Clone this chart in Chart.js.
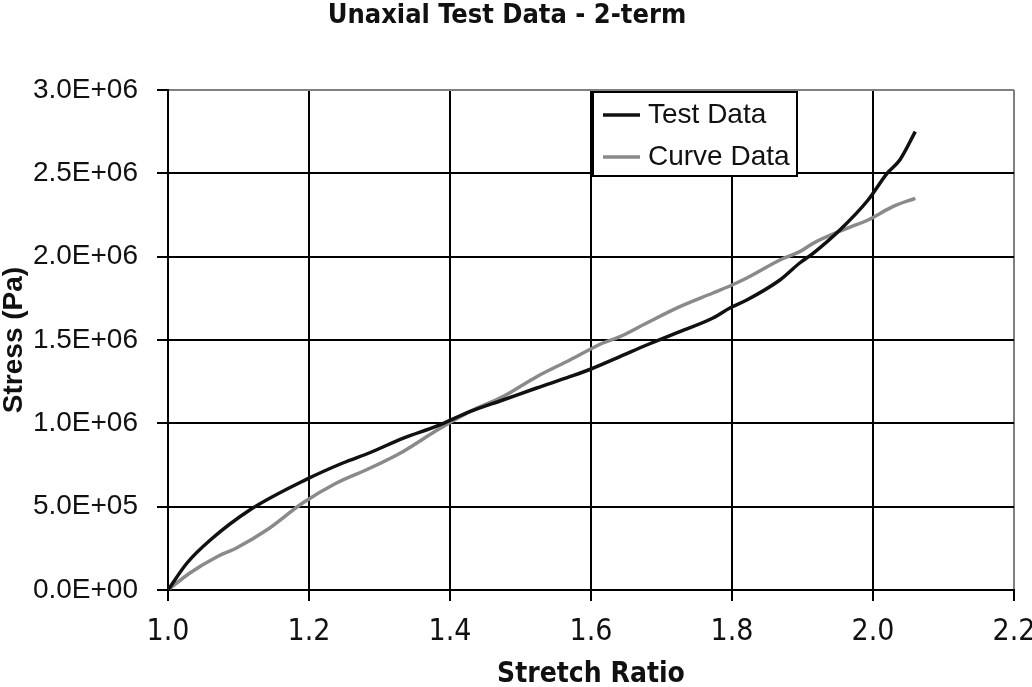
<!DOCTYPE html>
<html>
<head>
    <title>Unaxial Test Data - 2-term</title>
    <script src="https://cdn.jsdelivr.net/npm/chart.js"></script>
    <style>
        body { margin: 0; background: #fff; }
        #wrap { width: 1032px; height: 687px; position: relative; }
    </style>
</head>
<body>
    <div id="wrap"><canvas id="stressChart"></canvas></div>
    <script>
        // Test data (black curve)
        const testStretch = [1.000, 1.027, 1.060, 1.116, 1.197, 1.248, 1.287, 1.333, 1.382, 1.428, 1.475, 1.523, 1.570,
            1.600, 1.641, 1.679, 1.726, 1.773, 1.797, 1.821, 1.868, 1.896, 1.915, 1.953, 1.993, 2.020, 2.038, 2.060];
        const testStress = [0, 162000, 300000, 480000, 665000, 762000, 825000, 910000, 985000, 1070000, 1140000, 1212000, 1280000,
            1326000, 1400000, 1470000, 1550000, 1632000, 1692000, 1740000, 1860000, 1962000, 2020000, 2160000, 2340000, 2500000, 2580000, 2750000];

        // Curve fit data (grey curve)
        const curveStretch = [1.000, 1.031, 1.069, 1.097, 1.140, 1.191, 1.239, 1.287, 1.333, 1.382, 1.428, 1.475, 1.523, 1.570,
            1.617, 1.641, 1.679, 1.726, 1.773, 1.800, 1.821, 1.868, 1.896, 1.915, 1.963, 1.993, 2.028, 2.060];
        const curveStress = [0, 102000, 198000, 252000, 360000, 522000, 642000, 732000, 830000, 960000, 1070000, 1160000, 1280000, 1380000,
            1482000, 1520000, 1602000, 1700000, 1782000, 1830000, 1872000, 1980000, 2030000, 2080000, 2170000, 2220000, 2300000, 2350000];

        // axis settings
        const xMin = 1.0, xMax = 2.2, xStep = 0.2;
        const yMin = 0, yMax = 3000000, yStep = 500000;

        const narrow = '"Liberation Sans Narrow", "DejaVu Sans Condensed", Arial, sans-serif';
        const plain = '"Liberation Sans", Arial, sans-serif';

        function toPoints(xs, ys) {
            return xs.map((x, i) => ({ x: x, y: ys[i] }));
        }

        // Excel style label: 2.5E+06
        function sci(v) {
            const parts = Number(v).toExponential(1).split('e');
            const sign = parts[1][0];
            let exp = parts[1].slice(1);
            if (exp.length < 2) exp = '0' + exp;
            return parts[0] + 'E' + sign + exp;
        }

        // legend box drawn inside the plot area
        const boxLegend = {
            id: 'boxLegend',
            afterDraw(chart) {
                const ctx = chart.ctx;
                const area = chart.chartArea;
                const x0 = area.left + 425, y0 = area.top + 2, w = 204, h = 84;
                ctx.save();
                ctx.fillStyle = '#fff';
                ctx.fillRect(x0, y0, w, h);
                ctx.strokeStyle = '#000';
                ctx.lineWidth = 2;
                ctx.strokeRect(x0, y0, w, h);
                ctx.font = '28px ' + plain;
                ctx.textBaseline = 'middle';
                chart.data.datasets.forEach((ds, i) => {
                    const cy = y0 + 23 + i * 42;
                    ctx.strokeStyle = ds.borderColor;
                    ctx.lineWidth = 3.5;
                    ctx.beginPath();
                    ctx.moveTo(x0 + 10, cy);
                    ctx.lineTo(x0 + 47, cy);
                    ctx.stroke();
                    ctx.fillStyle = '#111';
                    ctx.fillText(ds.label, x0 + 55, cy);
                });
                ctx.restore();
            }
        };

        const config = {
            type: 'line',
            data: {
                datasets: [
                    {
                        label: 'Test Data',
                        data: toPoints(testStretch, testStress),
                        borderColor: '#111',
                        borderWidth: 3.5,
                        pointRadius: 0,
                        cubicInterpolationMode: 'monotone'
                    },
                    {
                        label: 'Curve Data',
                        data: toPoints(curveStretch, curveStress),
                        borderColor: '#8a8a8a',
                        borderWidth: 3.5,
                        pointRadius: 0,
                        cubicInterpolationMode: 'monotone'
                    }
                ]
            },
            options: {
                responsive: true,
                maintainAspectRatio: false,
                animation: false,
                layout: { padding: { left: 0, right: 18, top: 0, bottom: 0 } },
                plugins: {
                    legend: { display: false },
                    tooltip: { enabled: false },
                    title: {
                        display: true,
                        text: 'Unaxial Test Data - 2-term',
                        color: '#111',
                        font: { family: narrow, size: 27, weight: 'bold', lineHeight: 1 },
                        padding: { top: 2, bottom: 61 }
                    }
                },
                scales: {
                    x: {
                        type: 'linear',
                        min: xMin,
                        max: xMax,
                        afterFit(scale) {
                            scale.height = 97;
                            scale.paddingLeft = 0;
                            scale.paddingRight = 0;
                        },
                        ticks: {
                            stepSize: xStep,
                            color: '#111',
                            padding: 13,
                            maxRotation: 0,
                            font: { family: narrow, size: 30 },
                            callback: v => Number(v).toFixed(1)
                        },
                        grid: {
                            color: ctx => (ctx.tick && Math.abs(ctx.tick.value - xMax) < 1e-6) ? '#808080' : '#000',
                            tickColor: '#000',
                            lineWidth: 2,
                            tickLength: 11
                        },
                        border: { color: '#000', width: 2 },
                        title: {
                            display: true,
                            text: 'Stretch Ratio',
                            color: '#111',
                            padding: 0,
                            font: { family: narrow, size: 28, weight: 'bold', lineHeight: 0.85 }
                        }
                    },
                    y: {
                        min: yMin,
                        max: yMax,
                        afterFit(scale) { scale.width = 168; },
                        ticks: {
                            stepSize: yStep,
                            color: '#111',
                            padding: 19,
                            font: { family: plain, size: 28 },
                            callback: v => sci(v)
                        },
                        grid: {
                            color: ctx => (ctx.tick && ctx.tick.value === yMax) ? '#808080' : '#000',
                            tickColor: '#000',
                            lineWidth: 2,
                            tickLength: 11
                        },
                        border: { color: '#000', width: 2 },
                        title: {
                            display: true,
                            text: 'Stress (Pa)',
                            color: '#111',
                            padding: 0,
                            font: { family: plain, size: 28, weight: 'bold', lineHeight: 1 }
                        }
                    }
                }
            },
            plugins: [boxLegend]
        };

        const ctx = document.getElementById('stressChart').getContext('2d');
        new Chart(ctx, config);
    </script>
</body>
</html>
